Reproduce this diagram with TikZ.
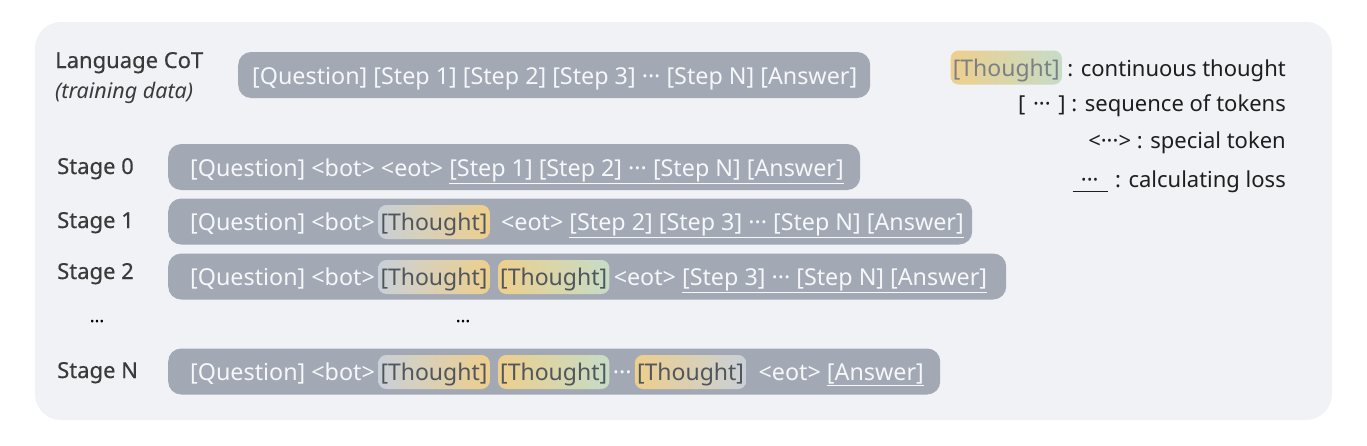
\documentclass[tikz,border=0pt]{standalone}
\usepackage{fontspec}
\setmainfont{Noto Sans}
\newfontfamily\labfont[FakeBold=0.5]{Noto Sans}
\definecolor{bgc}{HTML}{F1F2F6}
\definecolor{barc}{HTML}{A2A8B4}
\definecolor{bartxt}{HTML}{F6F7F9}
\definecolor{thgray}{HTML}{C9D0D8}
\definecolor{thyel}{HTML}{EECF8C}
\definecolor{thgrn}{HTML}{C6DCC6}
\definecolor{chiptxt}{HTML}{50565E}
\definecolor{labc}{HTML}{3A3A3A}
\definecolor{legc}{HTML}{1E1E1E}
\newcommand{\mdots}{\textperiodcentered\textperiodcentered\textperiodcentered}
\tikzset{
  bar/.style={fill=barc, rounded corners=13, minimum height=46, inner sep=0, anchor=west},
  btxt/.style={text=bartxt, inner sep=0, anchor=base west, font=\fontsize{23.3}{27}\selectfont},
  chip/.style={rounded corners=8, inner xsep=2.2, inner ysep=6.5, text height=19, text depth=2,
    text=chiptxt, anchor=base west, font=\fontsize{23}{27}\selectfont},
  gy/.style={chip, left color=thgray, right color=thyel},
  yg/.style={chip, left color=thyel, right color=thgrn},
  yb/.style={chip, left color=thyel, right color=thgray},
  lab/.style={text=labc, anchor=base west, inner sep=0, font=\labfont\fontsize{22}{26}\selectfont},
  leg/.style={text=legc, anchor=base east, inner sep=0, font=\fontsize{22}{26}\selectfont},
  dotsn/.style={text=black, inner sep=0, anchor=base, font=\labfont\fontsize{18}{20}\selectfont}
}
\begin{document}
\begin{tikzpicture}[x=1pt,y=-1pt]
\useasboundingbox (0,0) rectangle (1367,445);
\fill[bgc, rounded corners=26] (35,22) rectangle (1332,420);

% left labels
\node[lab] (llcot) at (55,68) {Language CoT};
\node[lab, font=\itshape\fontsize{21.5}{25}\selectfont, text=labc] (ltrain) at (55,98) {(training data)};
\node[lab] (ls0) at (57,174) {Stage 0};
\node[lab] (ls1) at (57,228) {Stage 1};
\node[lab] (ls2) at (57,279) {Stage 2};
\node[lab] (lsn) at (57,378) {Stage N};
\node[dotsn] (dl) at (97,322) {...};
\node[dotsn] (dm) at (463,322) {...};

% bars
\node[bar, minimum width=632] (blcot) at (238,75) {};
\node[bar, minimum width=692] (b0) at (168,167) {};
\node[bar, minimum width=804] (b1) at (168,221.5) {};
\node[bar, minimum width=838] (b2) at (168,276.5) {};
\node[bar, minimum width=772] (bn) at (168,371.5) {};

% language CoT
\node[btxt] (tl) at (252,84) {[Question] [Step 1] [Step 2] [Step 3] \mdots{} [Step N] [Answer]};

% stage 0
\node[btxt] (t0) at (190,176) {[Question] <bot> <eot> \underline{[Step 1] [Step 2] \mdots{} [Step N] [Answer]}};

% stage 1
\node[btxt] (t1a) at (190,230.5) {[Question] <bot>};
\node[gy] (t1t) at ([xshift=3]t1a.base east) {[Thought]};
\node[btxt] (t1b) at ([xshift=11]t1t.base east) {<eot> \underline{[Step 2] [Step 3] \mdots{} [Step N] [Answer]}};

% stage 2
\node[btxt] (t2a) at (190,285.5) {[Question] <bot>};
\node[gy] (t2t1) at ([xshift=3]t2a.base east) {[Thought]};
\node[yg] (t2t2) at ([xshift=8]t2t1.base east) {[Thought]};
\node[btxt] (t2b) at ([xshift=4]t2t2.base east) {<eot> \underline{[Step 3] \mdots{} [Step N] [Answer]}};

% stage N
\node[btxt] (tna) at (190,380.5) {[Question] <bot>};
\node[gy] (tnt1) at ([xshift=3]tna.base east) {[Thought]};
\node[yg] (tnt2) at ([xshift=8]tnt1.base east) {[Thought]};
\node[btxt] (tnd) at ([xshift=3]tnt2.base east) {\mdots};
\node[yb] (tnt3) at ([xshift=3]tnd.base east) {[Thought]};
\node[btxt] (tnb) at ([xshift=12]tnt3.base east) {<eot> \underline{[Answer]}};

% legend
\node[leg] (lg1) at (1286,76) {: continuous thought};
\node[yg, anchor=base east, text=chiptxt!75] (lgt) at ([xshift=-5]lg1.base west) {[Thought]};
\node[leg] (lg2) at (1286,111) {[\hspace{0.35em}\mdots\hspace{0.35em}] : sequence of tokens};
\node[leg] (lg3) at (1286,148) {<\mdots> : special token};
\node[leg] (lg4) at (1286,187) {: calculating loss};
\node[leg, anchor=base east] (lg4d) at ([xshift=-16]lg4.base west) {\mdots};
\draw[legc, line width=1] ([xshift=-8,yshift=-4]lg4d.base west) -- ([xshift=9,yshift=-4]lg4d.base east);
\end{tikzpicture}
\end{document}
